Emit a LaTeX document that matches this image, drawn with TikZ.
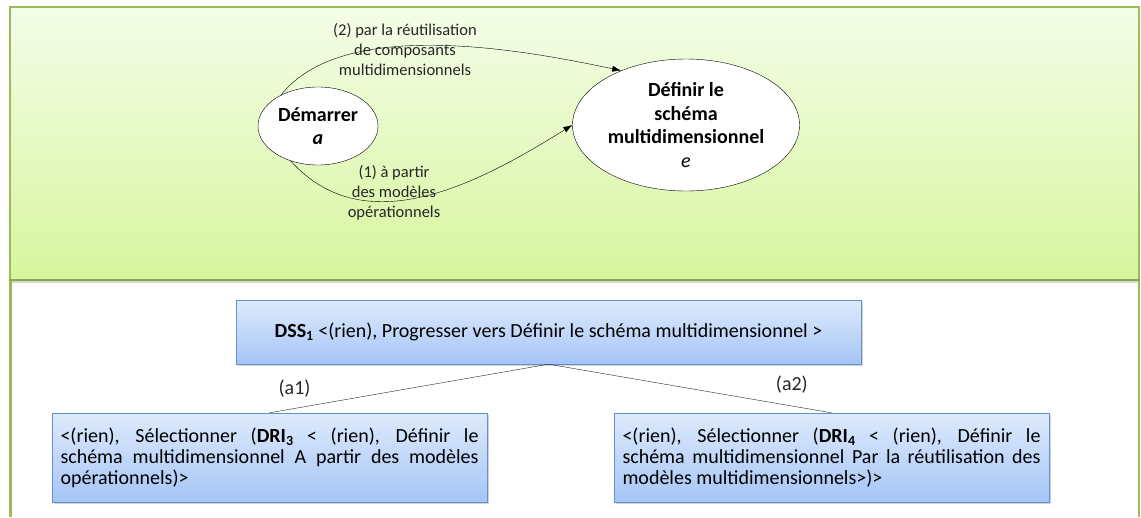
\documentclass[tikz,border=0pt]{standalone}
\usepackage{fontspec}
\setmainfont{Carlito}
\usepackage{tikz}
\usetikzlibrary{positioning,arrows.meta,shapes.geometric,shadows}

\definecolor{panelTop}{HTML}{F4FDE8}
\definecolor{panelBot}{HTML}{D7F59E}
\definecolor{panelLine}{HTML}{9BBB59}
\definecolor{panelDark}{HTML}{86A94C}
\definecolor{boxTop}{HTML}{DEEAFC}
\definecolor{boxBot}{HTML}{A5C5F6}
\definecolor{boxLine}{HTML}{6390CE}
\hyphenpenalty=10000
\exhyphenpenalty=10000

\begin{document}
\begin{tikzpicture}[
  x=1pt, y=-1pt,
  intention/.style={ellipse, draw, thin, fill=white, inner sep=0pt, align=center},
  strat/.style={thin, -{Latex[length=9pt,width=6pt]}},
  stratlbl/.style={font=\fontsize{16.5}{20}\selectfont, align=center, text=black!85},
  dirbox/.style={draw=boxLine, top color=boxTop, bottom color=boxBot,
    drop shadow={shadow xshift=2pt, shadow yshift=-2pt, opacity=0.35},
    font=\fontsize{20}{20.8}\selectfont, inner sep=0pt},
  branch/.style={thin, black!85},
  brlbl/.style={font=\fontsize{20}{22}\selectfont}
]
\useasboundingbox (0,0) rectangle (1141,517);
% upper panel: the map
\fill[white] (0,0) rectangle (1141,517);
\draw[panelLine, line width=1.3pt, top color=panelTop, bottom color=panelBot,
  drop shadow={shadow xshift=0pt, shadow yshift=-3pt, opacity=0.3}]
  (10,7) rectangle (1139,280);
\draw[panelDark, line width=2.5pt] (9,280) -- (1140,280);
% lower panel: the directives
\draw[panelLine, line width=3pt] (10,281) -- (10,517);
\draw[panelLine, line width=1.3pt] (1139,281) -- (1139,517);

\node[intention, minimum width=120pt, minimum height=78pt,
  font=\fontsize{20}{23}\selectfont] (dem) at (318,126)
  {\textbf{Démarrer}\\\textbf{\textit{a}}};
\node[intention, minimum width=227pt, minimum height=132pt,
  font=\fontsize{20}{23.5}\selectfont] (def) at (686,125)
  {\textbf{Définir le}\\\textbf{schéma}\\\textbf{multidimensionnel}\\\textit{e}};

\draw[strat] (dem.140) to[out=52,in=168,looseness=0.75] (def.140);
\draw[strat] (dem.232) to[out=-48,in=212] (def.west);
\node[stratlbl] (s2) at (405,50) {(2) par la réutilisation\\de composants\\multidimensionnels};
\node[stratlbl] (s1) at (394,193) {(1) à partir\\des modèles\\opérationnels};

% DSS and its two DRIs
\node[dirbox, minimum width=625pt, minimum height=64pt] (dss) at (548.5,332)
  {\textbf{DSS\textsubscript{1}} <(rien), Progresser vers Définir le schéma multidimensionnel >};
\node[dirbox, minimum width=435pt, minimum height=89pt, text width=418pt, align=justify] (dri3) at (269.5,457.5)
  {<(rien), Sélectionner (\textbf{DRI\textsubscript{3}} < (rien), Définir le schéma multidimensionnel A partir des modèles opérationnels)>};
\node[dirbox, minimum width=435pt, minimum height=89pt, text width=418pt, align=justify] (dri4) at (831.5,457.5)
  {<(rien), Sélectionner (\textbf{DRI\textsubscript{4}} < (rien), Définir le\linebreak schéma multidimensionnel Par la réutilisation des\linebreak modèles multidimensionnels>)>};

\draw[branch] (dss.south) -- node[pos=0.91, above=8pt, brlbl]{(a1)} (dri3.north);
\draw[branch] (dss.south) -- node[pos=0.86, above=9pt, brlbl]{(a2)} (dri4.north);
\end{tikzpicture}
\end{document}
